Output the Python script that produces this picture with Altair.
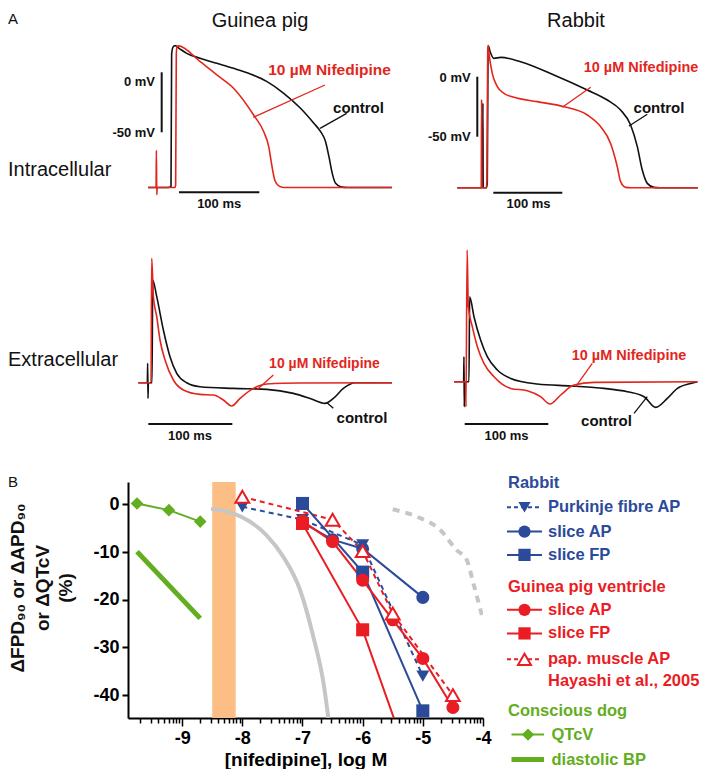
import altair as alt
import numpy as np
import pandas as pd

FONT = "Liberation Sans"
INK = "#111111"
TRACE_RED = "#E2261D"
BLUE = "#2B4A9A"
RED = "#EA1C24"
GREEN = "#63AD21"
ORANGE = "#FDBE86"
GREY = "#C6C6C6"

# ---------------- Panel A : recordings (time in ms) ----------------
# Guinea pig, intracellular AP (mV)
GP_IN_CTRL_T = [-28.6, -3, 0, 0.8, 2.5, 5, 10, 19.6, 36.3, 57.1, 77.9, 98.8, 119.6, 140.4, 161.3,
                177.9, 186.3, 192.5, 196.7, 200.8, 205, 211.3, 219.6, 275]
GP_IN_CTRL_V = [-96, -96, -95, 15, 21, 22.2, 20, 15.8, 11.7, 7.5, 3.3, -1.4, -7.8, -17.5, -30,
                -42.5, -49.4, -57.8, -70.3, -84.2, -92.5, -95.3, -96, -96]
GP_IN_NIF_T = [-28.6, -18.6, -18.2, -17.7, -17.2, 4.8, 5.8, 6.6, 7.5, 9, 36.3, 57.1, 77.9, 102.9,
               115.4, 121.7, 125.8, 129.2, 134.2, 140.4, 275]
GP_IN_NIF_V = [-96, -96, -65, -102, -96, -96, -94, 15, 21.5, 22, 8.9, -2.2, -13.3, -35.6,
               -49.4, -61.9, -78.6, -89.7, -94.7, -96, -96]

# Rabbit, intracellular AP (mV)
RB_IN_CTRL_T = [-43.5, -6.8, -6.4, -6.0, -1.0, 0, 1.0, 1.5, 4, 9.7, 19.3, 48.3, 96.6, 144.9, 173.9,
                193.2, 207.7, 217.4, 224.6, 231.9, 241.5, 250, 305]
RB_IN_CTRL_V = [-92.5, -92.5, -22, -92.5, -92.5, -88, 20, 25.8, 21, 15.3, 16.1, 12.5, 1.4, -11.1, -19.4,
                -27.8, -40.3, -58.3, -77.8, -88.9, -92.2, -92.5, -92.5]
RB_IN_NIF_T = [-43.5, -8.8, -8.3, -7.8, -1.5, -0.5, 0.6, 1.2, 2.4, 7.2, 14.5, 24.2, 38.6, 72.5, 111.1,
               144.9, 164.3, 178.7, 188.4, 193.2, 200.5, 208, 305]
RB_IN_NIF_V = [-92.5, -92.5, -19, -92.5, -92.5, -85, 22, 26, 19.4, 2.8, -8.3, -13.9, -17.2, -20.8, -25,
               -31.9, -41.7, -55.6, -75, -87.5, -92.2, -92.5, -92.5]

# Guinea pig, extracellular field potential (arbitrary units)
GP_EX_CTRL_T = [-15.9, -5.2, -4.8, -4.4, -4.0, 0.4, 1.2, 6, 13.9, 21.8, 29.8, 41.7, 57.5, 97.2, 136.9,
                168.7, 188.5, 206.3, 216.3, 228.2, 242, 286]
GP_EX_CTRL_A = [0, 0, 19.3, -15.7, 0, 0, 102.7, 86, 52.7, 26, 9.3, 0, -4, -5.7, -6.7,
                -10.7, -15.7, -20.7, -15.7, -5.7, 0, 0]
GP_EX_NIF_T = [-15.9, -0.8, 0, 2, 6, 9.9, 15.9, 25.8, 37.7, 57.5, 73.4, 85.3, 95.2, 105.2, 121, 136.9,
               176.6, 286]
GP_EX_NIF_A = [0, 0, 124.3, 86, 66, 42.7, 22.7, 2.7, -7.3, -11.7, -12.3, -17.3, -23.3, -15.7, -5.7, -1.3,
               -0.3, 0]

# Rabbit, extracellular field potential (arbitrary units)
RB_EX_CTRL_T = [-15.9, -4.4, -4.0, -3.6, -3.2, 2.0, 2.8, 8, 15.9, 23.9, 35.9, 51.8, 83.7, 123.5, 163.3,
                191.2, 211.2, 225.1, 239, 251, 267, 275]
RB_EX_CTRL_A = [0, 0, 25, -25, 0, 0, 85, 65, 41.7, 25, 11.7, 3.3, -2.3, -4.3, -6.7,
                -10, -15, -25.7, -16.7, -6.7, -1.7, 0]
RB_EX_NIF_T = [-15.9, -2.0, -1.6, -0.2, 1.2, 6, 12, 19.9, 31.9, 51.8, 71.7, 87.6, 98.8, 111.6, 127.5,
               151.4, 275]
RB_EX_NIF_A = [0, 0, -25, 131.7, 75, 55, 35, 18.3, 5, -6.7, -9, -15, -22.3, -13.3, -3.3,
               -0.7, 0]

# ---------------- Panel B : concentration-response (log M, % change) ----------------
PURK_X = [-8, -7, -6, -5]
PURK_Y = [-0.5, -3.2, -8.5, -36.0]
RB_SAP_X = [-7, -6.5, -6, -5]
RB_SAP_Y = [-3.8, -7.4, -9.3, -19.5]
RB_SFP_X = [-7, -6, -5]
RB_SFP_Y = [0.2, -14.2, -43.3]
GP_SAP_X = [-7, -6.5, -6, -5.5, -5, -4.5]
GP_SAP_Y = [-3.5, -7.8, -15.9, -24.2, -32.3, -42.6]
GP_SFP_X = [-7, -6, -5]
GP_SFP_Y = [-4.0, -26.3, -62.0]
PAP_X = [-8, -6.5, -6, -5.5, -4.5]
PAP_Y = [1.6, -3.2, -9.8, -22.9, -40.0]
QTCV_X = [-9.75, -9.22, -8.70]
QTCV_Y = [0.2, -1.2, -3.6]
DBP_X = [-9.75, -8.70]
DBP_Y = [-9.9, -23.9]
BAND_X = [-8.50]
BAND_X2 = [-8.11]
GREY_SOLID_X = [-8.52, -8.15, -7.87, -7.60, -7.32, -7.04, -6.82, -6.65, -6.57]
GREY_SOLID_Y = [-0.96, -1.87, -3.63, -6.42, -10.97, -17.95, -27.75, -37.5, -44.8]
GREY_DASH_X = [-5.50, -5.10, -4.71, -4.44, -4.27, -4.16, -4.02]
GREY_DASH_Y = [-1.03, -2.58, -5.37, -9.56, -11.66, -16.55, -23.2]

X_MAJOR = [-9, -8, -7, -6, -5, -4]
Y_MAJOR = [0, -10, -20, -30, -40]

# ---------------- layout (page pixels) ----------------
OX, OY = 128, 482      # panel B plot origin
PW, PH = 355, 236      # panel B plot size
PAD_TOP = 3


def xdom(p0, k):
    d0 = (OX - p0) / k
    return [d0, d0 + PW / k]


def ydom(q0, m):
    return [(q0 - OY - PH) / m, (q0 - OY) / m]


def text_layers(df, X, Y, weight="bold", angle=None):
    out = []
    for align in ["left", "center", "right"]:
        sub = df[df["align"] == align]
        if len(sub) == 0:
            continue
        kw = dict(align=align, baseline="middle", font=FONT, fontWeight=weight)
        if angle is not None:
            kw["angle"] = angle
        out.append(alt.Chart(sub).mark_text(**kw).encode(
            x=X, y=Y, text="text:N",
            color=alt.Color("color:N", scale=None),
            size=alt.Size("size:Q", scale=None)))
    return out


def trace_panel(ct, cv, nt, nv, p0, k, q0, m, rules, texts):
    xs = alt.Scale(domain=xdom(p0, k), nice=False, zero=False)
    ys = alt.Scale(domain=ydom(q0, m), nice=False, zero=False)
    X = alt.X("t:Q", scale=xs, axis=None)
    Y = alt.Y("v:Q", scale=ys, axis=None)
    ctrl = pd.DataFrame({"t": ct, "v": cv})
    nif = pd.DataFrame({"t": nt, "v": nv})
    layers = [
        alt.Chart(ctrl).mark_line(color=INK, strokeWidth=1.6, interpolate="monotone").encode(x=X, y=Y),
        alt.Chart(nif).mark_line(color=TRACE_RED, strokeWidth=1.6, interpolate="monotone").encode(x=X, y=Y),
    ]
    rdf = pd.DataFrame(rules, columns=["t", "v", "t2", "v2", "color", "w"])
    layers.append(alt.Chart(rdf).mark_rule().encode(
        x=X, y=Y, x2=alt.X2("t2"), y2=alt.Y2("v2"),
        color=alt.Color("color:N", scale=None),
        strokeWidth=alt.StrokeWidth("w:Q", scale=None)))
    tdf = pd.DataFrame(texts, columns=["t", "v", "text", "align", "size", "color"])
    layers += text_layers(tdf, X, Y)
    return alt.layer(*layers)


NIF = "10 \u00b5M Nifedipine"

gp_in = trace_panel(
    GP_IN_CTRL_T, GP_IN_CTRL_V, GP_IN_NIF_T, GP_IN_NIF_V, 171, 0.803, 72.3, 1.2,
    rules=[(-11.6, 0, -11.6, -50, INK, 2), (10, -100, 110, -100, INK, 2),
           (191.8, -10.6, 102.5, -37.5, TRACE_RED, 1.3), (218.8, -34.2, 185.6, -46.7, INK, 1.3)],
    texts=[(-19.9, -8.3, "0 mV", "right", 13, INK), (-19.9, -50.8, "-50 mV", "right", 13, INK),
           (60, -109.8, "100 ms", "center", 13, INK), (197.4, 1.9, NIF, "center", 15.5, TRACE_RED),
           (233.5, -29.5, "control", "center", 15, INK)])

rb_in = trace_panel(
    RB_IN_CTRL_T, RB_IN_CTRL_V, RB_IN_NIF_T, RB_IN_NIF_V, 487.3, 0.69, 76.7, 1.2,
    rules=[(-14.5, 0, -14.5, -50, INK, 2), (8.7, -96.7, 108.7, -96.7, INK, 2),
           (149.9, -8.8, 108.7, -25.5, TRACE_RED, 1.3), (231.9, -31.3, 205.4, -41.1, INK, 1.3)],
    texts=[(-24.1, -1.3, "0 mV", "right", 13, INK), (-24.1, -50, "-50 mV", "right", 13, INK),
           (59.7, -106.1, "100 ms", "center", 13, INK), (222.8, 7.0, NIF, "center", 14.5, TRACE_RED),
           (248.8, -25.8, "control", "center", 15, INK)])

gp_ex = trace_panel(
    GP_EX_CTRL_T, GP_EX_CTRL_A, GP_EX_NIF_T, GP_EX_NIF_A, 151.7, 0.84, 382.7, 1.0,
    rules=[(-4, -41.3, 96, -41.3, INK, 2),
           (144.8, 7.7, 125, -7.3, TRACE_RED, 1.3), (216.2, -25.6, 208, -19.5, INK, 1.3)],
    texts=[(45.6, -53.3, "100 ms", "center", 13, INK), (205.7, 18.7, NIF, "center", 14, TRACE_RED),
           (250.4, -35.6, "control", "center", 15, INK)])

rb_ex = trace_panel(
    RB_EX_CTRL_T, RB_EX_CTRL_A, RB_EX_NIF_T, RB_EX_NIF_A, 467.3, 0.837, 381.7, 1.0,
    rules=[(-3.1, -42.3, 96.8, -42.3, INK, 2),
           (149.3, 18.4, 129.5, -5, TRACE_RED, 1.3), (199.2, -31.6, 215, -15, INK, 1.3)],
    texts=[(46.8, -54.3, "100 ms", "center", 13, INK), (193.2, 25.7, NIF, "center", 14.5, TRACE_RED),
           (166.3, -39, "control", "center", 15, INK)])

# ---------------- Panel B ----------------
MAJOR_TEST = "abs(datum.value - round(datum.value)) < 0.001"
x_ticks = sorted({round(float(n + np.log10(kk)), 4) for n in range(-10, -4) for kk in range(1, 10)
                  if -9.9 <= n + np.log10(kk) <= -4.0} | {-4.0})

x_axis = alt.Axis(
    values=x_ticks, labelExpr=MAJOR_TEST + " ? '-' + abs(round(datum.value)) : ''",
    tickSize={"condition": {"test": MAJOR_TEST, "value": 8}, "value": 5},
    tickWidth=1.5, tickColor="black", domainColor="black", domainWidth=2,
    labelFont=FONT, labelFontWeight="bold", labelFontSize=18, labelColor="black",
    labelPadding=3, labelFlush=False, labelOverlap=False, grid=False,
    title="[nifedipine], log M", titleFont=FONT, titleFontWeight="bold", titleFontSize=19,
    titleColor="black", titleY=41, titleBaseline="middle")
y_axis = alt.Axis(
    values=Y_MAJOR, labelExpr="datum.value < 0 ? '-' + abs(datum.value) : '' + datum.value",
    tickSize=6, tickWidth=2, tickColor="black", domainColor="black", domainWidth=2,
    labelFont=FONT, labelFontWeight="bold", labelFontSize=18, labelColor="black",
    labelPadding=3, labelFlush=False, grid=False, title=None)

xsB = alt.Scale(domain=[-9.9, -4.0], nice=False, zero=False)
ysB = alt.Scale(domain=[-44.8, 4.7], nice=False, zero=False)
XB = alt.X("x:Q", scale=xsB, axis=x_axis)
YB = alt.Y("y:Q", scale=ysB, axis=y_axis)


def sdf(xs, ys):
    return pd.DataFrame({"x": xs, "y": ys})


def line(xs, ys, color, width=2, dash=None, clip=True, interp="linear"):
    kw = dict(color=color, strokeWidth=width, clip=clip, interpolate=interp)
    if dash:
        kw["strokeDash"] = dash
    return alt.Chart(sdf(xs, ys)).mark_line(**kw).encode(x=XB, y=YB)


def pts(xs, ys, color, shape, size, open_=False):
    if open_:
        mk = alt.Chart(sdf(xs, ys)).mark_point(shape=shape, filled=True, fill="white", stroke=color,
                                               strokeWidth=2, size=size, opacity=1, clip=True)
    else:
        mk = alt.Chart(sdf(xs, ys)).mark_point(shape=shape, filled=True, color=color, size=size,
                                               opacity=1, clip=True)
    return mk.encode(x=XB, y=YB)


band = alt.Chart(pd.DataFrame({"x": BAND_X, "x2": BAND_X2})).mark_rect(color=ORANGE).encode(
    x=XB, x2=alt.X2("x2"))

panel_b = alt.layer(
    band,
    line(GREY_SOLID_X, GREY_SOLID_Y, GREY, width=4, interp="monotone"),
    line(GREY_DASH_X, GREY_DASH_Y, GREY, width=4, dash=[7, 6], interp="monotone"),
    line(DBP_X, DBP_Y, GREEN, width=5),
    line(QTCV_X, QTCV_Y, GREEN, width=2),
    line(PAP_X, PAP_Y, RED, dash=[5, 4]),
    line(PURK_X, PURK_Y, BLUE, dash=[5, 4]),
    line(RB_SFP_X, RB_SFP_Y, BLUE),
    line(RB_SAP_X, RB_SAP_Y, BLUE),
    line(GP_SFP_X, GP_SFP_Y, RED),
    line(GP_SAP_X, GP_SAP_Y, RED),
    pts(PURK_X, PURK_Y, BLUE, "triangle-down", 170),
    pts(RB_SAP_X, RB_SAP_Y, BLUE, "circle", 170),
    pts(RB_SFP_X, RB_SFP_Y, BLUE, "square", 170),
    pts(QTCV_X, QTCV_Y, GREEN, "diamond", 160),
    pts(GP_SFP_X, GP_SFP_Y, RED, "square", 170),
    pts(GP_SAP_X, GP_SAP_Y, RED, "circle", 170),
    pts(PAP_X, PAP_Y, RED, "triangle-up", 190, open_=True),
)

# ---------------- layout layer: titles, labels, legend (page pixel units) ----------------
xsL = alt.Scale(domain=[OX, OX + PW], nice=False, zero=False)
ysL = alt.Scale(domain=[OY, OY + PH], reverse=True, nice=False, zero=False)
XL = alt.X("px:Q", scale=xsL, axis=None)
YL = alt.Y("py:Q", scale=ysL, axis=None)
XL2 = alt.X2("px2")

plain = pd.DataFrame([
    (8, 19, "A", "left", 15, INK), (8, 482, "B", "left", 15, INK),
    (8, 170, "Intracellular", "left", 20, INK), (8, 360, "Extracellular", "left", 20, INK),
    (260, 18 + PAD_TOP, "Guinea pig", "center", 20, INK), (576, 18 + PAD_TOP, "Rabbit", "center", 20, INK),
], columns=["px", "py", "text", "align", "size", "color"])

ytitle = pd.DataFrame([
    (18, 588, "\u0394FPD\u2089\u2080 or \u0394APD\u2089\u2080", "center", 19, INK),
    (43, 588, "or \u0394QTcV", "center", 19, INK),
    (66, 588, "(%)", "center", 19, INK),
], columns=["px", "py", "text", "align", "size", "color"])

LEG_Y0, LEG_STEP = 483, 23.8
LEG_ROW = [0, 1.02, 2.04, 3.02, 4.35, 5.33, 6.32, 7.41, 8.32, 9.58, 10.57, 11.62]
LEG_LABEL = ["Rabbit", "Purkinje fibre AP", "slice AP", "slice FP", "Guinea pig ventricle",
             "slice AP", "slice FP", "pap. muscle AP", "Hayashi et al., 2005", "Conscious dog",
             "QTcV", "diastolic BP"]
LEG_COLOR = [BLUE, BLUE, BLUE, BLUE, RED, RED, RED, RED, RED, GREEN, GREEN, GREEN]
LEG_ROLE = ["header", "item", "item", "item", "header", "item", "item", "item", "note", "header",
            "dog", "dog"]
LEG_LINE = [None, "dash", "solid", "solid", None, "solid", "solid", "dash", None, None, "solid", "thick"]
LEG_MARK = [None, "triangle-down", "circle", "square", None, "circle", "square", "triangle-open", None,
            None, "diamond", None]

COLX = {"header": (508, None, None, None), "item": (548, 507, 542, 524.5),
        "note": (548, None, None, None), "dog": (551.5, 511.5, 544, 528)}

leg_text, leg_lines, leg_marks = [], [], []
for r, lab, col, role, ls, mk in zip(LEG_ROW, LEG_LABEL, LEG_COLOR, LEG_ROLE, LEG_LINE, LEG_MARK):
    py = LEG_Y0 + LEG_STEP * r
    tx, lx0, lx1, mx = COLX[role]
    leg_text.append((tx, py, lab, "left", 16.5, col))
    if ls:
        leg_lines.append(dict(px=lx0, px2=lx1, py=py, color=col, style=ls))
    if mk:
        leg_marks.append(dict(px=mx, py=py, color=col, shape=mk))
leg_text = pd.DataFrame(leg_text, columns=["px", "py", "text", "align", "size", "color"])
leg_lines = pd.DataFrame(leg_lines)
leg_marks = pd.DataFrame(leg_marks)

layout_layers = []
layout_layers += text_layers(plain, XL, YL, weight="normal")
layout_layers += text_layers(ytitle, XL, YL, weight="bold", angle=270)
layout_layers += text_layers(leg_text, XL, YL, weight="bold")
for style, kw in [("solid", dict(strokeWidth=2)), ("dash", dict(strokeWidth=2, strokeDash=[4, 3])),
                  ("thick", dict(strokeWidth=5))]:
    sub = leg_lines[leg_lines["style"] == style]
    layout_layers.append(alt.Chart(sub).mark_rule(**kw).encode(
        x=XL, x2=XL2, y=YL, color=alt.Color("color:N", scale=None)))
for shape in ["triangle-down", "circle", "square", "diamond"]:
    sub = leg_marks[leg_marks["shape"] == shape]
    layout_layers.append(alt.Chart(sub).mark_point(shape=shape, filled=True, size=150, opacity=1).encode(
        x=XL, y=YL, color=alt.Color("color:N", scale=None)))
sub = leg_marks[leg_marks["shape"] == "triangle-open"]
layout_layers.append(alt.Chart(sub).mark_point(shape="triangle-up", filled=True, fill="white", stroke=RED,
                                               strokeWidth=2, size=170, opacity=1).encode(x=XL, y=YL))
layout = alt.layer(*layout_layers)

chart = alt.layer(panel_b, gp_in, rb_in, gp_ex, rb_ex, layout).resolve_scale(
    x="independent", y="independent"
).properties(
    width=PW, height=PH, background="white",
    padding={"left": 0, "top": PAD_TOP, "right": 0, "bottom": 0},
).configure_view(strokeWidth=0)

chart.save("out.html", embed_options={"renderer": "svg", "actions": False})
